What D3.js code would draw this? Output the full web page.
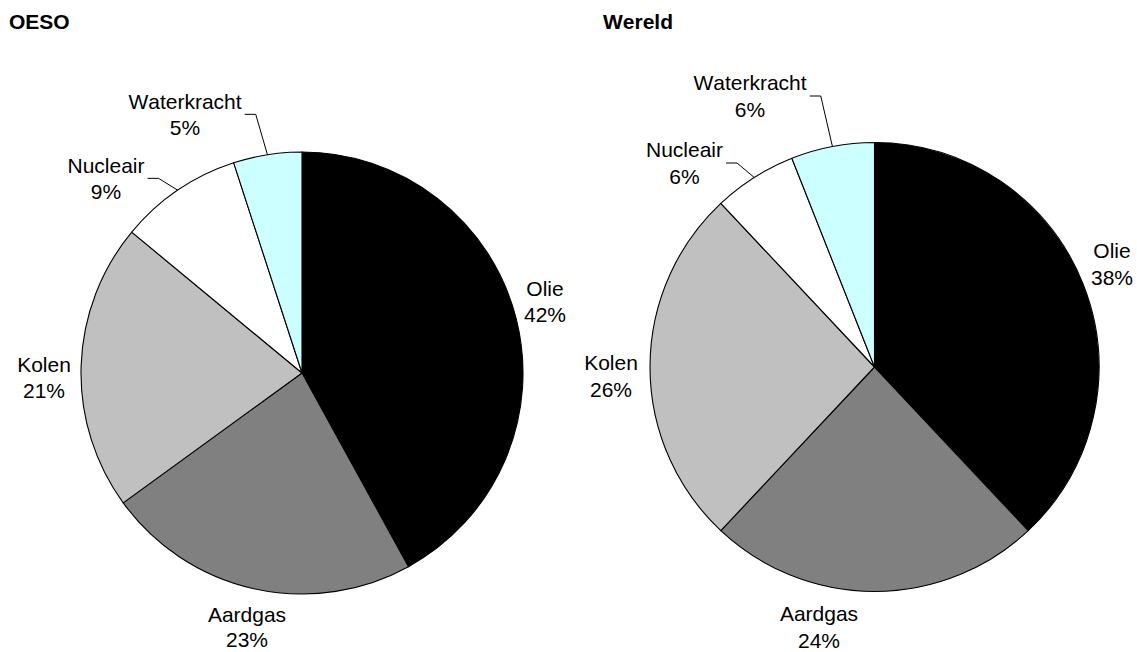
<!DOCTYPE html>
<html>
<head>
<meta charset="utf-8">
<script src="https://cdn.jsdelivr.net/npm/d3@7"></script>
<style>
  html, body { margin: 0; padding: 0; background: #fff; }
  svg { display: block; }
  text { font-family: "Liberation Sans", Arial, sans-serif; fill: #000; font-kerning: none; }
</style>
</head>
<body>
<svg id="chart" width="1137" height="652"></svg>
<script>
// Energy sources, share of primary supply (%)
const categories = ["Olie", "Aardgas", "Kolen", "Nucleair", "Waterkracht"];
const oesoValues = [42, 23, 21, 9, 5];
const wereldValues = [38, 24, 26, 6, 6];
const panelTitles = ["OESO", "Wereld"];

const sliceColors = ["#000000", "#808080", "#c0c0c0", "#ffffff", "#ccffff"];

// Layout of each panel: pie centre, radius, title anchor and label anchors
// (label anchors are [centre x, first baseline] relative to the pie centre).
const panels = [
  {
    title: panelTitles[0], values: oesoValues,
    cx: 302, cy: 373, r: 221, titleX: 9, titleY: 29, lineGap: 25.7,
    labelAt: [[243, -77], [-55, 248.5], [-258, -1], [-196, -200], [-117, -264]],
    leader: [false, false, false, true, true]
  },
  {
    title: panelTitles[1], values: wereldValues,
    cx: 874.5, cy: 367, r: 224.5, titleX: 603, titleY: 29, lineGap: 27,
    labelAt: [[237.5, -109], [-55.5, 254], [-263.5, 3], [-190, -210], [-124.5, -277]],
    leader: [false, false, false, true, true]
  }
];

const svg = d3.select("#chart");
const color = d3.scaleOrdinal().domain(categories).range(sliceColors);
const pie = d3.pie().sort(null).value(d => d.value);

panels.forEach(p => {
  svg.append("text")
    .attr("x", p.titleX).attr("y", p.titleY)
    .style("font-size", "21px").style("font-weight", "bold")
    .text(p.title);

  const g = svg.append("g").attr("transform", `translate(${p.cx},${p.cy})`);
  const data = categories.map((c, i) => ({ name: c, value: p.values[i], idx: i }));
  const arcs = pie(data);
  const arc = d3.arc().innerRadius(0).outerRadius(p.r);

  g.selectAll("path.slice")
    .data(arcs)
    .join("path")
    .attr("class", "slice")
    .attr("d", arc)
    .attr("fill", d => color(d.data.name))
    .attr("stroke", "#000")
    .attr("stroke-width", 1.1)
    .attr("stroke-linejoin", "round");

  arcs.forEach(a => {
    const i = a.data.idx;
    const [lx, ly] = p.labelAt[i];
    const t = g.append("text")
      .attr("text-anchor", "middle")
      .style("font-size", "21px");
    t.append("tspan").attr("x", lx).attr("y", ly).text(a.data.name);
    t.append("tspan").attr("x", lx).attr("y", ly + p.lineGap).text(a.data.value + "%");

    if (p.leader[i]) {
      // leader line from the slice's mid-arc to the label's right side
      const box = t.node().getBBox();
      const mid = (a.startAngle + a.endAngle) / 2;
      const ax = Math.sin(mid) * p.r;
      const ay = -Math.cos(mid) * p.r;
      const right = box.x + box.width;
      const my = box.y + box.height / 2;
      g.append("path")
        .attr("d", d3.line()([[ax, ay], [right + 14, my], [right + 3, my]]))
        .attr("fill", "none")
        .attr("stroke", "#000")
        .attr("stroke-width", 1);
    }
  });
});
</script>
</body>
</html>
